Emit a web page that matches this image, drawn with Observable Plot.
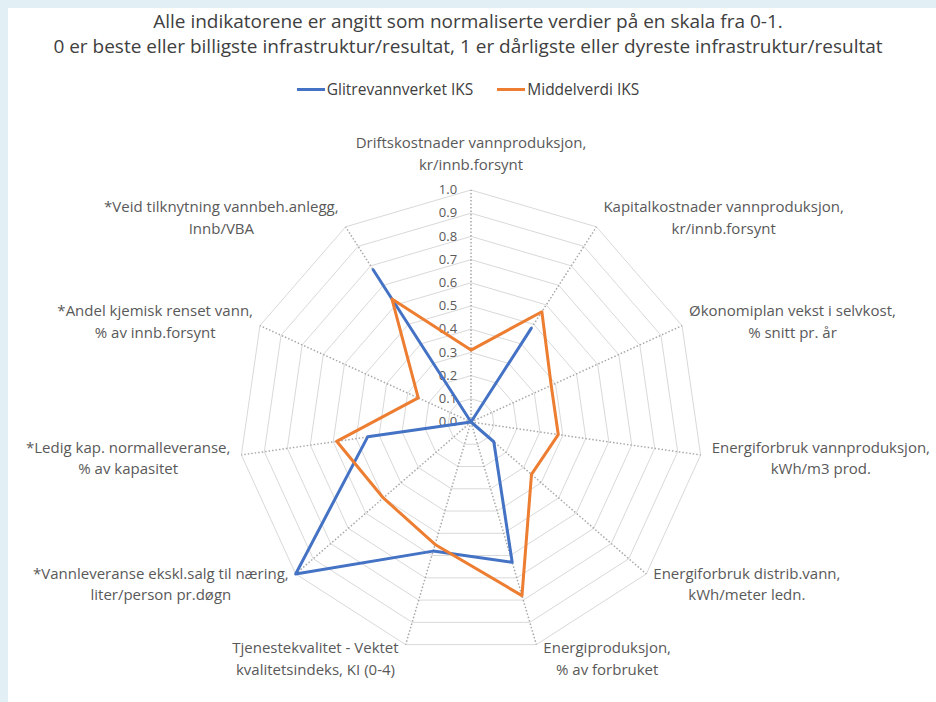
<!DOCTYPE html>
<html>
<head>
<meta charset="utf-8">
<script src="https://cdn.jsdelivr.net/npm/d3@7"></script>
<script src="https://cdn.jsdelivr.net/npm/@observablehq/plot@0.6"></script>
<style>
  html, body { margin: 0; padding: 0; }
  body { width: 936px; height: 702px; background: #e2f0f5; position: relative; overflow: hidden; font-family: "Open Sans", Lato, sans-serif; }
  #panel { position: absolute; left: 8px; top: 8px; right: 0; bottom: 0; background: #ffffff; }
  #title { position: absolute; left: 0; top: 9px; width: 936px; text-align: center; color: #404040; font-size: 19px; line-height: 25px; }
  #legend { position: absolute; left: 0; top: 80px; width: 936px; height: 18px; display: flex; justify-content: center; align-items: center; color: #404040; font-size: 15.5px; }
  .item { display: flex; align-items: center; margin: 0 12px; }
  .sw { width: 28px; height: 3px; margin-right: 2px; }
  #chart { position: absolute; left: 0; top: 105px; }
</style>
</head>
<body>
<div id="panel"></div>
<div id="title">Alle indikatorene er angitt som normaliserte verdier på en skala fra 0-1.<br>0 er beste eller billigste infrastruktur/resultat, 1 er dårligste eller dyreste infrastruktur/resultat</div>
<div id="legend"></div>
<div id="chart"></div>
<script>
// ---- data ----
const axes = [
  "Driftskostnader vannproduksjon,\nkr/innb.forsynt",
  "Kapitalkostnader vannproduksjon,\nkr/innb.forsynt",
  "Økonomiplan vekst i selvkost,\n% snitt pr. år",
  "Energiforbruk vannproduksjon,\nkWh/m3 prod.",
  "Energiforbruk distrib.vann,\nkWh/meter ledn.",
  "Energiproduksjon,\n% av forbruket",
  "Tjenestekvalitet - Vektet\nkvalitetsindeks, KI (0-4)",
  "*Vannleveranse ekskl.salg til næring,\nliter/person pr.døgn",
  "*Ledig kap. normalleveranse,\n% av kapasitet",
  "*Andel kjemisk renset vann,\n% av innb.forsynt",
  "*Veid tilknytning vannbeh.anlegg,\nInnb/VBA"
];
const seriesNames = ["Glitrevannverket IKS", "Middelverdi IKS"];
const glitre = [0.0, 0.48, 0.0, 0.0, 0.13, 0.63, 0.58, 1.0, 0.45, 0.0, 0.78];
const middel = [0.31, 0.565, 0.38, 0.38, 0.345, 0.78, 0.55, 0.50, 0.585, 0.25, 0.63];
const ticks = [0.0, 0.1, 0.2, 0.3, 0.4, 0.5, 0.6, 0.7, 0.8, 0.9, 1.0];
const colors = ["#4472c4", "#ed7d31"];

// ---- legend ----
const legend = document.getElementById("legend");
seriesNames.forEach((n, i) => {
  const it = document.createElement("div"); it.className = "item";
  const sw = document.createElement("div"); sw.className = "sw"; sw.style.background = colors[i];
  const tx = document.createElement("span"); tx.textContent = n;
  it.appendChild(sw); it.appendChild(tx); legend.appendChild(it);
});

// ---- geometry ----
const N = axes.length;
const W = 936, H = 597, R = 232, CX = 470.5, CY = 316.5;
const ang = i => 2 * Math.PI * i / N;
const P = (v, i) => ({x: v * Math.sin(ang(i)), y: v * Math.cos(ang(i))});

const rings = ticks.slice(1).flatMap(t => d3.range(N + 1).map(i => ({t, ...P(t, i % N)})));
const spokes = d3.range(N).map(i => ({i, ...P(1, i)}));
const series = [glitre, middel].map((vals, s) => vals.map((v, i) => ({s: seriesNames[s], ...P(v, i)})));
const tickData = ticks.map(t => ({t, x: 0, y: t}));

// label placement
const FS = 15;
const FONT = "'Open Sans', Lato, sans-serif";
const ctx = document.createElement("canvas").getContext("2d");
ctx.font = `${FS}px 'Open Sans'`;
const labelMarks = axes.map((lab, i) => {
  const s = Math.sin(ang(i)), c = Math.cos(ang(i));
  const w = d3.max(lab.split("\n"), l => ctx.measureText(l).width);
  let dx, dy;
  if (Math.abs(s) < 0.1) { dx = 0; dy = -38; }
  else {
    const gap = Math.abs(s) > 0.95 ? 11 : 7;
    dx = Math.sign(s) * (gap + w / 2);
    dy = -c * 13;
  }
  return Plot.text([P(1, i)], {x: "x", y: "y", text: () => lab, dx, dy,
    textAnchor: "middle", lineAnchor: "middle", lineHeight: 21.5 / FS,
    fontSize: FS, fill: "#595959"});
});

const plot = Plot.plot({
  width: W, height: H, margin: 0,
  x: {domain: [-CX / R, (W - CX) / R], axis: null},
  y: {domain: [(CY - H) / R, CY / R], axis: null},
  style: {background: "transparent", fontFamily: FONT},
  marks: [
    Plot.line(rings, {x: "x", y: "y", z: "t", stroke: "#d9d9d9", strokeWidth: 1}),
    Plot.link(spokes, {x1: 0, y1: 0, x2: "x", y2: "y", stroke: "#a8a8a8", strokeWidth: 1.5, strokeDasharray: "1.5,2"}),
    Plot.text(tickData, {x: "x", y: "y", text: d => d.t.toFixed(1), dx: -23, fontSize: 13, fill: "#595959"}),
    Plot.line(series[0], {x: "x", y: "y", curve: "linear-closed", stroke: colors[0], strokeWidth: 3}),
    Plot.line(series[1], {x: "x", y: "y", curve: "linear-closed", stroke: colors[1], strokeWidth: 3}),
    ...labelMarks
  ]
});
document.getElementById("chart").appendChild(plot);
</script>
</body>
</html>
